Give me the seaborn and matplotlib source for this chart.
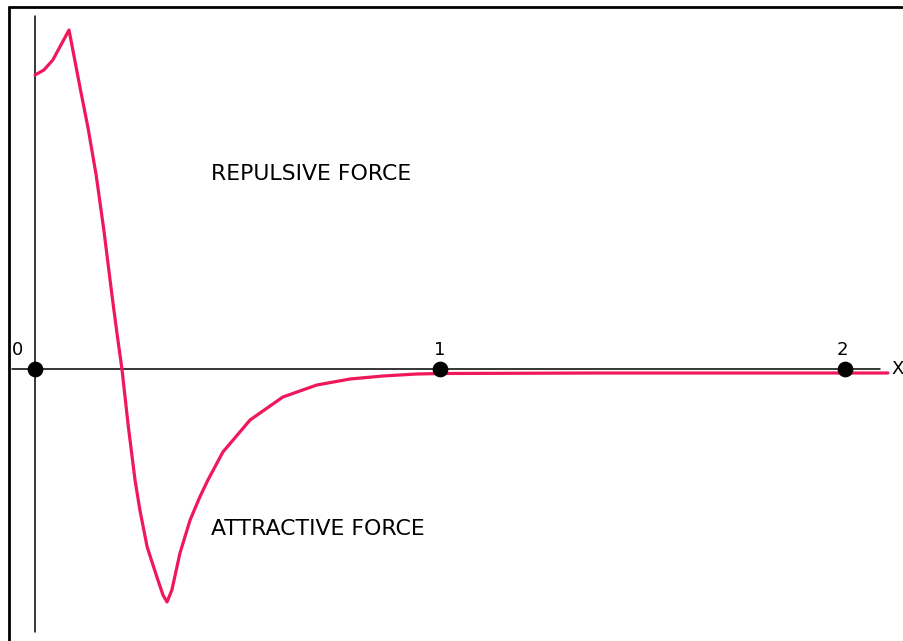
import numpy as np
import matplotlib
matplotlib.use("Agg")
import matplotlib.pyplot as plt
from matplotlib.lines import Line2D
import seaborn as sns

# curve (x = separation, y = force, arbitrary units)
sep = [0.000, 0.022, 0.044, 0.064, 0.084, 0.111, 0.131, 0.151, 0.170, 0.190,
       0.202, 0.215, 0.230, 0.247, 0.259, 0.277, 0.301, 0.316, 0.326, 0.338,
       0.358, 0.383, 0.407, 0.427, 0.464, 0.531, 0.612, 0.696, 0.778, 0.859,
       0.943, 1.005, 1.395, 2.106]
force = [2.94, 2.99, 3.09, 3.24, 3.39, 2.82, 2.41, 1.94, 1.39, 0.74,
         0.37, -0.01, -0.56, -1.11, -1.41, -1.78, -2.08, -2.26, -2.33, -2.21,
         -1.84, -1.51, -1.28, -1.11, -0.83, -0.51, -0.28, -0.16, -0.10, -0.07,
         -0.05, -0.045, -0.04, -0.04]

tick_pos = [0, 1, 2]
tick_labels = ["0", "1", "2"]

sns.set_style("white")
plt.rcParams['font.family'] = ['DejaVu Sans']

fig = plt.figure(figsize=(9.04, 6.41), dpi=100)
ax = fig.add_axes([0, 0, 1, 1])
ax.set_xlim(-0.0864, 2.1457)
ax.set_ylim(-2.72, 3.69)
ax.axis("off")

# axes lines
ax.plot([0, 0], [-2.63, 3.53], color="black", lw=1.1)
ax.plot([-0.057, 2.086], [0, 0], color="black", lw=1.1)

# force curve
sns.lineplot(x=sep, y=force, sort=False, color="#f0175a", lw=2.3, ax=ax)

# points on the axis
sns.scatterplot(x=tick_pos, y=[0] * len(tick_pos), color="black", s=110,
                edgecolor="black", zorder=5, ax=ax)
offsets = [-0.043, 0, -0.007]
for p, lab, off in zip(tick_pos, tick_labels, offsets):
    ax.text(p + off, 0.1, lab, fontsize=13, color="black", ha="center", va="bottom")
ax.text(2.114, 0, "X", fontsize=13, color="black", ha="left", va="center")

ax.text(0.435, 1.95, "REPULSIVE FORCE", fontsize=15.8, color="black",
        ha="left", va="center")
ax.text(0.435, -1.6, "ATTRACTIVE FORCE", fontsize=15.8, color="black",
        ha="left", va="center")

# outer frame (left and top only visible)
fig.add_artist(Line2D([0.010, 0.010], [0, 0.989], color="black", lw=2,
                      transform=fig.transFigure))
fig.add_artist(Line2D([0.010, 1.0], [0.989, 0.989], color="black", lw=2,
                      transform=fig.transFigure))

fig.savefig("out.png", dpi=100)
